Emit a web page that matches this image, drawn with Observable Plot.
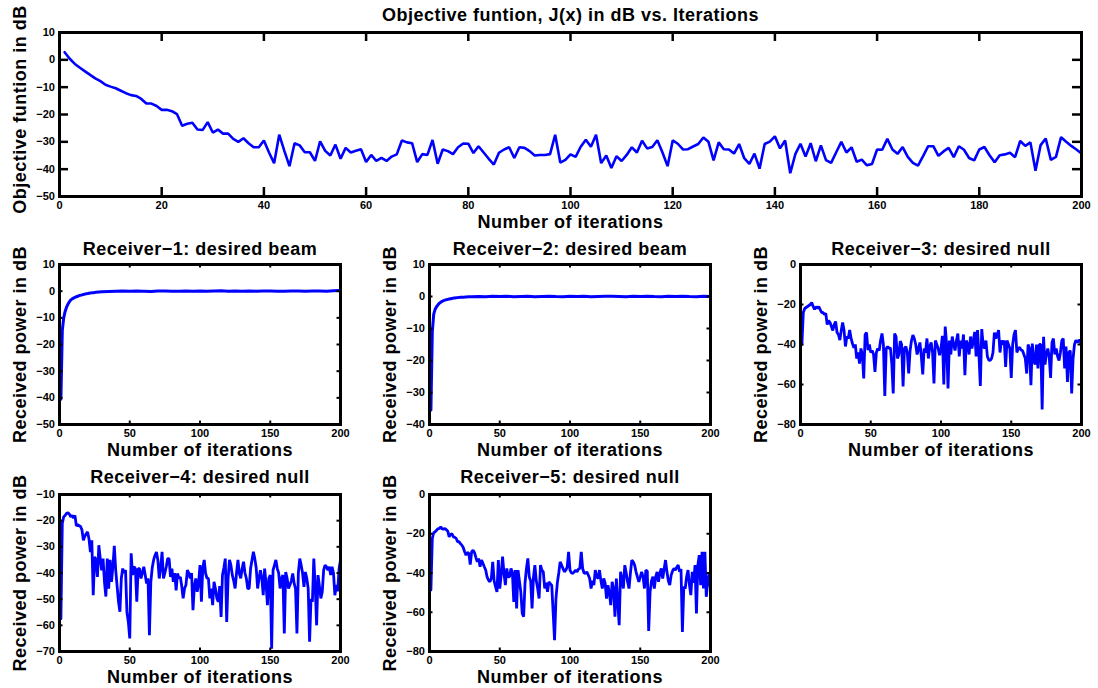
<!DOCTYPE html>
<html><head><meta charset="utf-8">
<script src="https://cdn.jsdelivr.net/npm/d3@7"></script>
<script src="https://cdn.jsdelivr.net/npm/@observablehq/plot@0.6"></script>
<style>
html,body{margin:0;padding:0;background:#fff;}
#wrap{position:relative;width:1098px;height:688px;overflow:hidden;background:#fff;font-family:"Liberation Sans",Arial,Helvetica,sans-serif;}
#wrap svg{position:absolute;overflow:visible;background:transparent;}
</style></head><body><div id="wrap"></div>
<script>
// ---- data ----
const objective = [
2.8,0.4,-1.5,-2.9,-4.2,-5.5,-6.8,-7.8,-9.1,-9.8,
-10.4,-11.3,-12.2,-12.9,-13.2,-14.3,-16.0,-16.0,-16.9,-18.3,
-18.3,-18.8,-19.9,-24.1,-23.4,-23.0,-25.5,-25.7,-22.8,-26.6,
-25.5,-27.0,-27.0,-28.9,-30.0,-28.7,-30.5,-32.0,-32.0,-29.5,
-33.9,-37.8,-27.4,-33.3,-38.9,-30.5,-31.3,-33.8,-33.8,-37.0,
-29.8,-33.3,-35.0,-31.0,-36.2,-32.2,-33.9,-33.3,-32.7,-37.4,
-34.8,-37.0,-35.9,-37.0,-35.4,-34.6,-29.5,-30.2,-30.5,-37.4,
-34.5,-34.8,-29.3,-38.0,-32.8,-33.4,-34.5,-32.0,-30.6,-30.7,
-34.1,-31.6,-33.9,-36.2,-38.3,-34.0,-32.8,-32.0,-35.9,-32.0,
-32.2,-33.4,-35.0,-34.8,-34.8,-34.5,-27.4,-37.6,-36.6,-34.6,
-35.5,-31.8,-29.2,-31.8,-27.4,-37.8,-35.0,-39.6,-35.3,-37.0,
-34.8,-32.0,-33.9,-29.6,-32.4,-31.9,-29.4,-33.9,-38.9,-29.5,
-30.7,-32.8,-32.7,-31.7,-30.8,-28.4,-30.0,-36.8,-30.2,-32.7,
-32.8,-34.3,-30.8,-36.0,-38.1,-34.3,-39.8,-30.8,-29.9,-28.0,
-32.4,-29.5,-41.5,-34.5,-30.7,-35.4,-30.5,-37.1,-31.3,-36.7,
-37.7,-33.8,-30.0,-33.9,-32.0,-37.3,-36.5,-38.6,-38.1,-32.8,
-32.9,-28.9,-32.8,-34.4,-31.9,-35.5,-37.7,-38.7,-35.2,-31.6,
-31.6,-35.1,-33.5,-32.2,-35.6,-31.6,-32.9,-35.9,-36.8,-32.8,
-31.9,-34.9,-37.5,-34.9,-34.6,-34.0,-35.6,-29.7,-31.5,-30.2,
-40.6,-31.2,-28.8,-36.6,-35.5,-28.3,-30.0,-31.5,-32.8,-34.3];

const beamIter = [1,2,3,4,5,6,7,8,9,10,11,12,13,14,15,16,17,18,19,20,22,24,26,28,30,
35,40,45,50,55,60,65,70,75,80,85,90,95,100,105,110,115,120,125,130,135,140,145,150,155,160,165,170,175,180,185,190,195,200];
const receiver1 = [-40.5,-14.7,-10,-7.6,-6,-4.9,-4.0,-3.3,-2.9,-2.6,-2.3,-2.1,-1.9,-1.7,-1.5,-1.4,-1.25,-1.1,-1.0,-0.9,-0.7,-0.55,-0.45,-0.35,-0.25,
-0.1,0.0,0.1,-0.05,0.05,0.0,-0.1,0.1,0.05,0.0,-0.05,0.1,0.0,0.05,-0.05,0.1,0.15,0.0,0.05,-0.05,0.1,0.0,0.05,0.1,0.0,-0.05,0.05,0.1,0.0,0.05,0.1,0.0,0.15,0.3];
const receiver2 = [-35.5,-11,-5.5,-4,-3.2,-2.6,-2.1,-1.8,-1.5,-1.3,-1.15,-1.0,-0.9,-0.8,-0.7,-0.6,-0.5,-0.45,-0.4,-0.35,-0.25,-0.2,-0.15,-0.1,-0.05,
0.0,-0.1,0.05,0.0,0.1,-0.05,0.0,0.05,-0.1,0.0,0.1,0.0,-0.05,0.05,0.0,0.1,-0.05,0.0,0.05,0.1,0.0,-0.1,0.05,0.0,0.1,0.0,-0.05,0.05,0.0,0.1,0.0,-0.05,0.05,0.0];

const receiver3 = [
-40,-24,-22,-21.5,-21,-20.5,-20,-19,-21,-22.5,
-21,-22,-21,-22.5,-24,-24,-25,-24.5,-30,-28,
-29,-31,-33,-30,-28.5,-34,-35,-37.8,-33,-29,
-33,-41,-36,-37,-32.8,-37,-39.5,-41.7,-40,-47,
-44,-49.5,-42,-45,-57,-35,-34,-42.8,-40,-44,
-43,-45,-53.7,-44,-42,-43,-38,-34.5,-40,-65.7,
-42,-41,-42,-41.7,-50,-64.5,-34.5,-36,-47,-45,
-38.3,-40,-61,-42,-41,-44,-54.5,-43,-38,-35.3,
-37,-40,-45,-42,-39,-46,-55,-42,-44,-37,
-47,-41,-39,-44,-59.5,-38,-40,-42,-45.3,-42,
-35.7,-60,-31,-40,-62,-38,-45,-36,-40,-43,
-38,-34.5,-46,-38,-42,-35,-55.3,-38,-40,-45,
-36,-42,-38,-33.7,-46,-32.8,-45,-60.7,-32.3,-40,
-42,-38,-46,-47.8,-48,-47,-44,-34,-37,-35,
-32.8,-44,-38,-40,-38,-51.2,-38,-40,-42,-56.7,
-40,-35,-32.8,-44,-42,-41.5,-42.8,-43,-45,-47,
-54.5,-40,-42,-60.3,-39.5,-48,-50,-40,-52,-40,
-40,-72.5,-36.2,-50,-45,-42,-46,-56.7,-39,-37,
-45,-42,-46,-48,-44,-38,-37,-52,-41,-58.7,
-44,-43,-64.5,-47,-40,-37.8,-39,-38,-38,-40.7];

const receiver4 = [
-57.5,-21,-18.5,-18,-17.2,-17,-17.5,-18.5,-18,-19,
-18,-22,-21.5,-22,-22.2,-23.6,-27.5,-26,-25,-24.3,
-27,-32,-27.5,-48.5,-33.8,-35,-41.5,-29.4,-34.5,-39,
-34.5,-43.4,-49,-34.5,-46,-35,-43.4,-37.6,-29.6,-38.9,
-45,-51,-54.8,-42,-38.3,-40,-38.9,-55,-58.7,-65,
-32.5,-40.8,-37.6,-38.3,-51,-38.3,-38.3,-42.1,-40,-37.6,
-40.8,-44,-42.1,-63.8,-43.4,-38,-35,-33.2,-32,-35,
-42.1,-38,-31.9,-42.1,-40,-37.6,-34.5,-34.5,-41.5,-38.3,
-43.4,-40,-46.6,-40.2,-42,-41.5,-45,-49.7,-45.9,-44.6,
-38.9,-40,-42.1,-40,-54.2,-45,-42.1,-47.2,-44,-37,
-51,-38,-35,-40.2,-42,-42.1,-49.7,-46,-52.3,-43.4,
-46,-49.7,-51,-45,-56.8,-40.8,-38,-34.5,-58.7,-42,
-35,-37,-40.8,-43,-45.9,-40,-35,-40.2,-42,-38.3,
-35.7,-40,-42.1,-46,-45.9,-38.3,-35,-31.9,-34.5,-38,
-45.9,-42.1,-38.9,-42,-48.5,-38.3,-44,-52.3,-42,-40.8,
-68.9,-38.9,-37,-35,-38.3,-40,-45.9,-42,-40.8,-63.1,
-39.6,-42,-45.9,-44.6,-43,-40.2,-44,-46,-63.1,-40,
-34.5,-37,-40,-45.3,-39.6,-42,-45.9,-66.3,-50,-51,
-34.5,-45,-60,-40.8,-45,-49.7,-47.2,-38.9,-37,-37.6,
-38.9,-37.6,-40.8,-37.6,-40,-48.5,-44.6,-47,-38.3,-35];

const receiver5 = [
-48.7,-22.4,-19.5,-19,-18.2,-17.5,-17.3,-16.5,-17.5,-17.7,
-17.3,-18,-18.7,-21.6,-20.4,-20,-21.6,-21.8,-22.4,-24.1,
-24,-25,-25.8,-27,-29.2,-30.9,-29.5,-30,-35.7,-29.2,
-28.4,-29.5,-32,-34.3,-32.6,-36.8,-33.4,-35,-36.8,-38.5,
-42,-43.6,-44.5,-42.8,-34.3,-44,-47,-49.6,-33.4,-47.9,
-41.1,-31.7,-40,-46.2,-37.7,-42,-41.9,-37.7,-40,-54.7,
-38.5,-58,-38.5,-44,-49.6,-60.6,-62.3,-45,-37.7,-32.6,
-41.9,-44,-58,-42,-36,-44,-47.9,-53,-36,-38.5,
-39.4,-47.9,-45,-49.6,-44.5,-45.5,-46.2,-60,-74.2,-53,
-45,-40,-34.3,-36,-37.7,-39.4,-38.5,-37,-29.2,-38.5,
-40,-40.2,-39.4,-38.5,-39.4,-38,-37.7,-29.2,-37.7,-40,
-40.2,-39.4,-41,-42.8,-47.9,-44,-46.2,-38.5,-42,-42.8,
-38.5,-44,-47.9,-42.8,-45,-53,-46.2,-50,-56.4,-44.5,
-48,-62.3,-42.8,-55,-66.6,-39.4,-43,-47.9,-36,-40,
-44.5,-47.9,-40,-33.4,-34.3,-36,-39.4,-42,-44.5,-42,
-39.4,-42,-47.9,-38.5,-39,-69.5,-49.6,-44,-41.9,-47.9,
-42,-39.4,-44.5,-40,-37.7,-42.8,-38,-33.4,-39.4,-44,
-46.2,-41.1,-39,-37.7,-38.5,-37,-36,-39.4,-38,-70,
-47,-47.9,-41.9,-38.5,-46,-51.3,-39.4,-45,-36,-60.6,
-36,-30.9,-46.2,-29.2,-47.9,-29.2,-52.1,-44.5,-40,-47.9];

const objTicksX = [0,20,40,60,80,100,120,140,160,180,200];
const objTicksY = [-50,-40,-30,-20,-10,0,10];
const recTicksX = [0,50,100,150,200];
const r1TicksY = [-50,-40,-30,-20,-10,0,10];
const r2TicksY = [-40,-30,-20,-10,0,10];
const r3TicksY = [-80,-60,-40,-20,0];
const r4TicksY = [-70,-60,-50,-40,-30,-20,-10];
const r5TicksY = [-80,-60,-40,-20,0];

const titles = ["Objective funtion, J(x) in dB vs. Iterations","Receiver\u22121: desired beam","Receiver\u22122: desired beam",
  "Receiver\u22123: desired null","Receiver\u22124: desired null","Receiver\u22125: desired null"];
const xLabel = "Number of iterations";
const yLabels = ["Objective funtion in dB","Received power in dB"];

const iter200 = objective.map((_, i) => i + 1);

// ---- drawing ----
const wrap = document.getElementById("wrap");
const textSet = new Set([...titles, xLabel, ...yLabels]);

function panel(cfg) {
  const mL = 50, mR = 14, mT = 32, mB = 38;
  const fw = cfg.right - cfg.left, fh = cfg.bottom - cfg.top;
  const data = cfg.y.map((v, i) => ({it: cfg.x[i], v}));
  const svg = Plot.plot({
    width: fw + mL + mR, height: fh + mT + mB,
    marginLeft: mL, marginRight: mR, marginTop: mT, marginBottom: mB,
    style: {fontFamily: "'Liberation Sans', Arial, Helvetica, sans-serif", fontSize: "11px", fontWeight: "bold", color: "black", background: "transparent", overflow: "visible"},
    x: {domain: [0, 200], ticks: cfg.xTicks, tickSize: 0, tickPadding: 5, label: null, tickFormat: d => String(d)},
    y: {domain: cfg.yDomain, ticks: cfg.yTicks, tickSize: 0, tickPadding: 4.5, label: null},
    marks: [
      Plot.line(data, {x: "it", y: "v", stroke: "#0000ff", strokeWidth: cfg.lw, strokeLinejoin: "miter", clip: true}),
      Plot.ruleX(cfg.xTicks, {stroke: "black", strokeWidth: cfg.tw, insetTop: fh - cfg.tick}),
      Plot.ruleX(cfg.xTicks, {stroke: "black", strokeWidth: cfg.tw, insetBottom: fh - cfg.tick}),
      Plot.ruleY(cfg.yTicks, {stroke: "black", strokeWidth: cfg.tw, insetRight: fw - cfg.tick}),
      Plot.ruleY(cfg.yTicks, {stroke: "black", strokeWidth: cfg.tw, insetLeft: fw - cfg.tick}),
      Plot.frame({stroke: "black", strokeWidth: 3}),
      Plot.text([cfg.title], {text: d => d, frameAnchor: "top", textAnchor: "middle", dy: cfg.titleDy, lineAnchor: "bottom", fontSize: 18, fontWeight: "bold", fill: "black"}),
      Plot.text([xLabel], {text: d => d, frameAnchor: "bottom", textAnchor: "middle", dy: 31.5, lineAnchor: "bottom", fontSize: 18, fontWeight: "bold", fill: "black"}),
      Plot.text([cfg.yLabel], {text: d => d, frameAnchor: "left", textAnchor: "middle", dx: -34, dy: cfg.ylDy || 0, rotate: -90, lineAnchor: "bottom", fontSize: 18, fontWeight: "bold", fill: "black"})
    ]
  });
  d3.select(svg).selectAll("text").filter(function() { return textSet.has(this.textContent); }).style("letter-spacing", "0.5px");
  svg.style.position = "absolute";
  svg.style.left = (cfg.left - mL) + "px";
  svg.style.top = (cfg.top - mT) + "px";
  wrap.appendChild(svg);
}

panel({x: iter200, y: objective, xTicks: objTicksX, yTicks: objTicksY, yDomain: [-50, 10], lw: 2.6,
  left: 59, right: 1081, top: 32, bottom: 196, tick: 9, tw: 2.5, titleDy: -12, ylDy: -5, title: titles[0], yLabel: yLabels[0]});
panel({x: beamIter, y: receiver1, xTicks: recTicksX, yTicks: r1TicksY, yDomain: [-50, 10], lw: 3,
  left: 59, right: 340, top: 264, bottom: 424, tick: 3.5, tw: 2, titleDy: -9.3, title: titles[1], yLabel: yLabels[1]});
panel({x: beamIter, y: receiver2, xTicks: recTicksX, yTicks: r2TicksY, yDomain: [-40, 10], lw: 3,
  left: 429, right: 710, top: 264, bottom: 424, tick: 3.5, tw: 2, titleDy: -9.3, title: titles[2], yLabel: yLabels[1]});
panel({x: iter200, y: receiver3, xTicks: recTicksX, yTicks: r3TicksY, yDomain: [-80, 0], lw: 2.8,
  left: 800, right: 1081, top: 264, bottom: 424, tick: 3.5, tw: 2, titleDy: -9.3, title: titles[3], yLabel: yLabels[1]});
panel({x: iter200, y: receiver4, xTicks: recTicksX, yTicks: r4TicksY, yDomain: [-70, -10], lw: 2.8,
  left: 59, right: 340, top: 494, bottom: 651, tick: 3.5, tw: 2, titleDy: -11.7, title: titles[4], yLabel: yLabels[1]});
panel({x: iter200, y: receiver5, xTicks: recTicksX, yTicks: r5TicksY, yDomain: [-80, 0], lw: 2.8,
  left: 429, right: 710, top: 494, bottom: 651, tick: 3.5, tw: 2, titleDy: -11.7, title: titles[5], yLabel: yLabels[1]});
</script></body></html>
